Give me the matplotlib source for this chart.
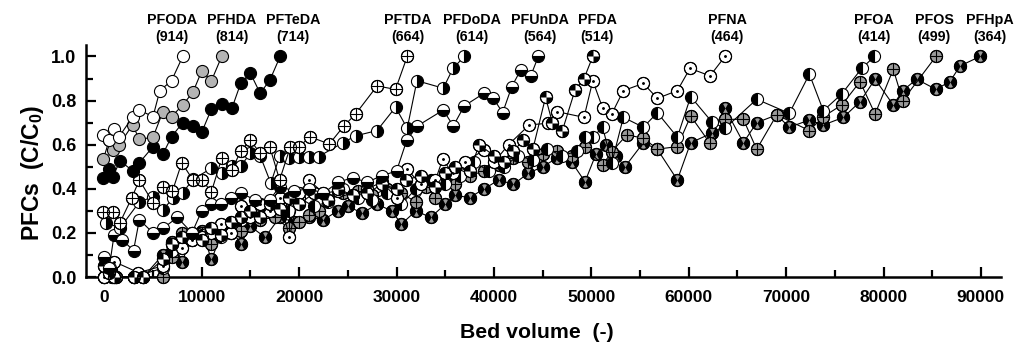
import matplotlib
matplotlib.use("Agg")
import matplotlib.pyplot as plt
from matplotlib.path import Path
from matplotlib.ticker import MultipleLocator

# ---------------- data ----------------
names = ["PFODA", "PFHDA", "PFTeDA", "PFTDA", "PFDoDA", "PFUnDA", "PFDA",
         "PFNA", "PFOA", "PFOS", "PFHpA"]
mw = ["(914)", "(814)", "(714)", "(664)", "(614)", "(564)", "(514)",
      "(464)", "(414)", "(499)", "(364)"]

pfoda_x = [-100, 500, 1000, 1500, 2900, 3600, 5000, 5700, 6900, 8050]
pfoda_y = [0.645, 0.62, 0.67, 0.635, 0.725, 0.757, 0.727, 0.845, 0.89, 1.0]

pfhda_x = [-100, 500, 900, 1500, 2900, 3600, 5000, 6000, 6900, 8050, 9100, 10000, 11000, 12050]
pfhda_y = [0.534, 0.62, 0.576, 0.597, 0.69, 0.624, 0.634, 0.748, 0.727, 0.78, 0.838, 0.934, 0.89, 1.0]

pfteda_x = [-100, 500, 900, 1600, 2900, 3600, 5000, 6000, 6900, 8050, 9100, 10000, 11000, 12050,
            13100, 14000, 15000, 16000, 17000, 18050]
pfteda_y = [0.448, 0.488, 0.455, 0.527, 0.482, 0.518, 0.591, 0.556, 0.636, 0.70, 0.685, 0.656,
            0.762, 0.785, 0.765, 0.878, 0.924, 0.833, 0.893, 1.0]

pftda_x = [-100, 900, 1600, 2800, 3600, 5000, 6000, 7000, 7950, 9100, 10000, 11000, 12050, 13100,
           14000, 15000, 16000, 17000, 18000, 19100, 20000, 21100, 23100, 24600, 25800, 28000,
           29900, 31100]
pftda_y = [0.296, 0.296, 0.246, 0.357, 0.44, 0.337, 0.41, 0.39, 0.518, 0.44, 0.44, 0.387, 0.538,
           0.485, 0.571, 0.62, 0.561, 0.588, 0.44, 0.59, 0.59, 0.636, 0.603, 0.685, 0.739, 0.866,
           0.851, 1.0]

pfdoda_x = [200, 1600, 3600, 5000, 6000, 7100, 8050, 9100, 11000, 12050, 13100, 14000, 15000,
            16000, 17100, 18000, 19000, 20000, 21000, 22000, 24500, 25800, 28000, 29900, 31100,
            32100, 34800, 35800, 36960]
pfdoda_y = [0.246, 0.222, 0.34, 0.364, 0.304, 0.36, 0.382, 0.443, 0.493, 0.47, 0.503, 0.503,
            0.561, 0.55, 0.425, 0.549, 0.54, 0.546, 0.546, 0.546, 0.609, 0.64, 0.664, 0.77,
            0.674, 0.89, 0.856, 0.946, 1.0]

pfunda_x = [0, 500, 1000, 1800, 3000, 3600, 5000, 6000, 7500, 9000, 10000, 11000, 12000, 13000,
            14000, 15500, 17000, 18000, 19500, 21000, 22500, 24000, 25500, 27000, 28500, 30000,
            31050, 32140, 34800, 35830, 36960, 38980, 39940, 40900, 41830, 42750, 43780, 44560]
pfunda_y = [0.09, 0.04, 0.19, 0.17, 0.12, 0.26, 0.20, 0.22, 0.27, 0.20, 0.30, 0.33, 0.33, 0.36,
            0.38, 0.35, 0.35, 0.41, 0.39, 0.40, 0.38, 0.43, 0.45, 0.43, 0.46, 0.48, 0.62, 0.685,
            0.757, 0.685, 0.776, 0.833, 0.81, 0.745, 0.863, 0.939, 0.912, 1.0]

pfda_x = [0, 500, 1000, 3000, 4000, 6000, 7000, 8000, 9000, 10000, 11000, 12000, 13000, 14000,
          15000, 16000, 17000, 18000, 19000, 20000, 21500, 23000, 24000, 25500, 27000, 28500,
          30000, 31000, 32500, 34000, 35000, 36000, 37500, 38500, 40000, 41000, 42000, 43000,
          44000, 45300, 46000, 47000, 48330, 49250, 50150]
pfda_y = [0.05, 0.02, 0.0, 0.0, 0.0, 0.08, 0.15, 0.18, 0.2, 0.17, 0.22, 0.19, 0.25, 0.27, 0.3,
          0.27, 0.33, 0.31, 0.36, 0.33, 0.38, 0.35, 0.40, 0.37, 0.38, 0.42, 0.40, 0.44, 0.46, 0.41,
          0.47, 0.50, 0.48, 0.60, 0.55, 0.52, 0.57, 0.62, 0.58, 0.815, 0.70, 0.66, 0.848, 0.90, 1.0]

pfna_x = [0, 600, 1000, 3500, 6000, 7000, 8000, 9000, 10000, 11000, 12000, 13000, 14000, 15000,
          16000, 17000, 18000, 19000, 20000, 21000, 22500, 24000, 25500, 27000, 28500, 30000,
          31050, 32500, 34000, 34740, 35770, 37000, 38980, 40000, 41500, 43640, 45590, 46450,
          49250, 50150, 51170, 52090, 53290, 55340, 56780, 58830, 60130, 62190, 63720]
pfna_y = [0.0, 0.04, 0.07, 0.02, 0.05, 0.15, 0.13, 0.17, 0.18, 0.20, 0.24, 0.20, 0.32, 0.27,
          0.33, 0.30, 0.36, 0.18, 0.38, 0.44, 0.38, 0.39, 0.37, 0.40, 0.43, 0.36, 0.49, 0.42,
          0.44, 0.534, 0.47, 0.52, 0.576, 0.52, 0.60, 0.69, 0.697, 0.75, 0.724, 0.89, 0.765,
          0.739, 0.845, 0.878, 0.81, 0.845, 0.946, 0.912, 1.0]

pfoa_x = [0, 500, 1000, 3000, 6000, 7000, 8000, 9000, 10000, 11000, 12000, 13000, 14000, 15000,
          16500, 18000, 19000, 20000, 21500, 23000, 24500, 26000, 27500, 29000, 30500, 32000,
          33500, 35000, 36500, 38000, 39500, 41000, 42500, 44000, 45500, 47000, 48500, 49350,
          50200, 51170, 52090, 53290, 55340, 56780, 58830, 60200, 62360, 63720, 66980, 70330,
          72390, 73820, 75710, 77760, 79060]
pfoa_y = [0.05, 0.02, 0.0, 0.0, 0.04, 0.12, 0.16, 0.20, 0.19, 0.21, 0.18, 0.24, 0.26, 0.30,
          0.31, 0.33, 0.30, 0.36, 0.32, 0.34, 0.40, 0.36, 0.35, 0.38, 0.33, 0.40, 0.44, 0.42,
          0.46, 0.52, 0.48, 0.50, 0.55, 0.53, 0.58, 0.55, 0.57, 0.636, 0.636, 0.679, 0.516,
          0.724, 0.679, 0.745, 0.634, 0.818, 0.704, 0.674, 0.806, 0.742, 0.92, 0.754, 0.83,
          0.946, 1.0]

pfos_x = [0, 400, 800, 1200, 3000, 4000, 6000, 7000, 8000, 9000, 10000, 11000, 12000, 13000,
          14000, 15000, 16000, 17500, 19000, 20000, 21000, 22000, 23000, 24500, 26000, 27500,
          29000, 30500, 32000, 33000, 34000, 35000, 36000, 37500, 39000, 40500, 42000, 43500,
          45000, 46500, 48000, 49300, 51170, 52090, 53630, 55340, 56780, 58830, 60200, 62190,
          63720, 65610, 66980, 69030, 72390, 73820, 75710, 77590, 79130, 81000, 81970, 85380]
pfos_y = [0.0, 0.03, 0.0, 0.0, 0.0, 0.0, 0.0, 0.09, 0.20, 0.17, 0.20, 0.15, 0.19, 0.20, 0.21,
          0.28, 0.26, 0.27, 0.22, 0.25, 0.28, 0.30, 0.35, 0.38, 0.39, 0.37, 0.40, 0.38, 0.34,
          0.41, 0.36, 0.43, 0.42, 0.46, 0.48, 0.51, 0.54, 0.52, 0.56, 0.57, 0.55, 0.59, 0.508,
          0.568, 0.644, 0.63, 0.58, 0.591, 0.73, 0.606, 0.715, 0.715, 0.579, 0.735, 0.664,
          0.727, 0.78, 0.886, 0.739, 0.942, 0.80, 1.0]

pfhpa_x = [0, 300, 700, 1200, 3000, 4000, 6000, 7000, 8000, 9000, 10000, 11000, 12000, 13000,
           14000, 15000, 16500, 18000, 19500, 21000, 22500, 24000, 25000, 26500, 28000, 29500,
           30500, 32000, 33500, 35000, 36000, 37500, 39000, 40500, 42000, 43500, 45000, 46500,
           48000, 49350, 50500, 51500, 52500, 53460, 55340, 56780, 58830, 60200, 62360, 63720,
           65610, 66980, 69030, 70330, 72390, 73820, 75880, 77590, 79130, 81000, 81970, 83400,
           85380, 86820, 87850, 89910]
pfhpa_y = [0.0, 0.06, 0.03, 0.0, 0.0, 0.0, 0.10, 0.16, 0.07, 0.19, 0.21, 0.08, 0.19, 0.22,
           0.15, 0.23, 0.18, 0.27, 0.25, 0.27, 0.26, 0.30, 0.32, 0.29, 0.33, 0.30, 0.24, 0.30,
           0.27, 0.33, 0.37, 0.36, 0.40, 0.44, 0.42, 0.47, 0.50, 0.54, 0.52, 0.432, 0.56, 0.60,
           0.55, 0.50, 0.609, 0.579, 0.44, 0.609, 0.652, 0.765, 0.609, 0.70, 0.735, 0.679,
           0.712, 0.689, 0.724, 0.795, 0.897, 0.78, 0.845, 0.897, 0.851, 0.886, 0.957, 1.0]

# ---------------- style ----------------
plt.rcParams['font.family'] = ['Liberation Sans', 'DejaVu Sans']
plt.rcParams['font.weight'] = 'bold'
plt.rcParams['mathtext.fontset'] = 'custom'
plt.rcParams['mathtext.rm'] = 'Liberation Sans:bold'
plt.rcParams['mathtext.it'] = 'Liberation Sans:bold'
plt.rcParams['mathtext.bf'] = 'Liberation Sans:bold'

W, H = 1015, 346
fig = plt.figure(figsize=(W / 100, H / 100), dpi=100)
ax = fig.add_axes([86 / W, (H - 277) / H, 915 / W, 232 / H])

quarter = Path.make_compound_path(Path.wedge(90, 180), Path.wedge(270, 360))
hourglass = Path.make_compound_path(Path.wedge(62, 118), Path.wedge(242, 298))

MS = 8.7
z = [2]


def series(x, y, face='white', fill='full', alt='white', over=None, overface='black',
           overedge='black', overms=MS, overmew=0.8):
    z[0] += 1
    ax.plot(x, y, '-', color='black', lw=0.8, zorder=z[0], clip_on=False)
    ax.plot(x, y, 'o', ls='none', ms=MS, mfc=face, mfcalt=alt, fillstyle=fill,
            mec='black', mew=0.8, zorder=z[0] + 0.1, clip_on=False)
    if over is not None:
        ax.plot(x, y, ls='none', marker=over, ms=overms, mfc=overface, mec=overedge,
                mew=overmew, zorder=z[0] + 0.2, clip_on=False)
        ax.plot(x, y, 'o', ls='none', ms=MS, mfc='none', mec='black', mew=0.8,
                zorder=z[0] + 0.3, clip_on=False)


series(pfhpa_x, pfhpa_y, face='black', over=hourglass, overface='#9a9a9a', overedge='none',
       overms=MS - 1.2)
series(pfos_x, pfos_y, face='#9a9a9a', over='+', overms=MS, overmew=0.8)
series(pfoa_x, pfoa_y, face='black', fill='left', alt='white')
series(pfna_x, pfna_y, face='white', over='.', overms=2.5)
series(pfda_x, pfda_y, face='white', over=quarter, overface='black', overedge='none')
series(pfunda_x, pfunda_y, face='black', fill='bottom', alt='white')
series(pfdoda_x, pfdoda_y, face='black', fill='right', alt='white')
series(pftda_x, pftda_y, face='white', over='+', overms=MS, overmew=0.8)
series(pfteda_x, pfteda_y, face='black')
series(pfhda_x, pfhda_y, face='#b4b4b4')
series(pfoda_x, pfoda_y, face='white')

ax.set_xlim(-1879, 92060)
ax.set_ylim(0, 1.052)
ax.xaxis.set_major_locator(MultipleLocator(10000))
ax.xaxis.set_minor_locator(MultipleLocator(5000))
ax.yaxis.set_major_locator(MultipleLocator(0.2))
ax.yaxis.set_minor_locator(MultipleLocator(0.1))
ax.tick_params(which='major', direction='in', length=7, width=1.6, labelsize=12.5, pad=9)
ax.tick_params(which='minor', direction='in', length=5, width=1.6)
ax.tick_params(axis='y', which='major', pad=7, labelsize=13)
for lab in ax.get_xticklabels() + ax.get_yticklabels():
    lab.set_fontweight('bold')
for s in ['top', 'right']:
    ax.spines[s].set_visible(False)
for s in ['left', 'bottom']:
    ax.spines[s].set_linewidth(1.8)

fig.text(537 / W, 1 - 332 / H, "Bed volume  (-)", ha='center', va='center',
         fontsize=15.3, fontweight='bold')
fig.text(33 / W, 1 - 173 / H, "PFCs  (C/C$_0$)", ha='center', va='center',
         rotation=90, fontsize=16.5, fontweight='bold')

label_px = [172, 232, 293, 408, 472, 540, 597, 727, 874, 934, 990]
for px, n, m in zip(label_px, names, mw):
    fig.text(px / W, 1 - 20 / H, n, ha='center', va='center', fontsize=10.3, fontweight='bold')
    fig.text(px / W, 1 - 37 / H, m, ha='center', va='center', fontsize=10.3, fontweight='bold')

fig.savefig("out.png", dpi=100)
